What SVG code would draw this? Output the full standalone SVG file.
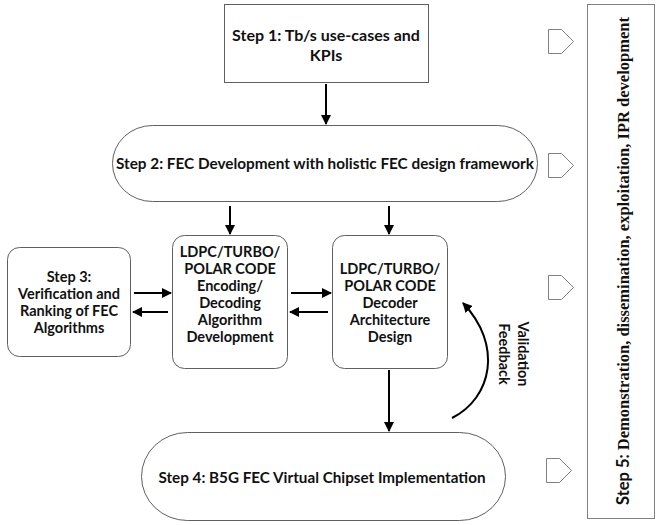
<svg xmlns="http://www.w3.org/2000/svg" width="659" height="525" viewBox="0 0 659 525">
<defs>
<style>
.box{fill:#fff;stroke:#606060;stroke-width:1}
.t{font-family:Lato,"Liberation Sans",sans-serif;font-weight:bold;font-size:14.5px;fill:#111;text-anchor:middle}
.t2{font-family:Lato,"Liberation Sans",sans-serif;font-weight:bold;font-size:16px;fill:#111;text-anchor:middle}
.c{fill:none;stroke:#000;stroke-width:2;marker-end:url(#ah)}
.pent{fill:#fff;stroke:#808080;stroke-width:1}
</style>
<marker id="ah" viewBox="0 0 10 10" refX="9" refY="5" markerWidth="5" markerHeight="5" orient="auto" markerUnits="strokeWidth">
<path d="M0,0 L10,5 L0,10 z" fill="#000"/>
</marker>
</defs>
<rect width="659" height="525" fill="#fff"/>

<g id="step1">
<rect class="box" x="224.5" y="4.5" width="204" height="78"/>
<text class="t2" x="326" y="41">Step 1: Tb/s use-cases and</text>
<text class="t2" x="326" y="61">KPIs</text>
</g>

<g id="step2">
<rect class="box" x="112.5" y="125.5" width="425" height="76" rx="40" ry="38"/>
<text class="t2" x="325" y="169" textLength="418" lengthAdjust="spacingAndGlyphs">Step 2: FEC Development with holistic FEC design framework</text>
</g>

<g id="step3">
<rect class="box" x="7.5" y="247.5" width="123" height="109" rx="12"/>
<text class="t" x="69" y="282">Step 3:</text>
<text class="t" x="69" y="299">Verification and</text>
<text class="t" x="69" y="316">Ranking of FEC</text>
<text class="t" x="69" y="333">Algorithms</text>
</g>

<g id="algo">
<rect class="box" x="172.5" y="235.5" width="115" height="133" rx="12"/>
<text class="t" x="230" y="257">LDPC/TURBO/</text>
<text class="t" x="230" y="274">POLAR CODE</text>
<text class="t" x="230" y="291">Encoding/</text>
<text class="t" x="230" y="308">Decoding</text>
<text class="t" x="230" y="325">Algorithm</text>
<text class="t" x="230" y="342">Development</text>
</g>

<g id="arch">
<rect class="box" x="332.5" y="235.5" width="115" height="133" rx="12"/>
<text class="t" x="390" y="274">LDPC/TURBO/</text>
<text class="t" x="390" y="291">POLAR CODE</text>
<text class="t" x="390" y="308">Decoder</text>
<text class="t" x="390" y="325">Architecture</text>
<text class="t" x="390" y="342">Design</text>
</g>

<g id="step4">
<rect class="box" x="141.5" y="432.5" width="364" height="88" rx="46" ry="44"/>
<text class="t2" x="322" y="483" textLength="327" lengthAdjust="spacingAndGlyphs">Step 4: B5G FEC Virtual Chipset Implementation</text>
</g>

<g id="step5">
<rect x="587.5" y="4.5" width="67" height="514" fill="#fff" stroke="#808080" stroke-width="1"/>
<text transform="translate(629,505) rotate(-90)" font-size="16.5" font-weight="bold" fill="#111"><tspan font-family="Lato,'Liberation Sans',sans-serif">Step 5: </tspan><tspan font-family="'Liberation Serif',serif">Demonstration, dissemination, exploitation, IPR development</tspan></text>
</g>

<g id="markers5">
<path class="pent" d="M548.5,29.5 H561.5 L573.5,41.5 L561.5,53.5 H548.5 Z"/>
<path class="pent" d="M548.5,153.5 H561.5 L573.5,165.5 L561.5,177.5 H548.5 Z"/>
<path class="pent" d="M548.5,275.5 H561.5 L573.5,287.5 L561.5,299.5 H548.5 Z"/>
<path class="pent" d="M546.5,458.5 H559.5 L571.5,470.5 L559.5,482.5 H546.5 Z"/>
</g>

<g id="feedback-label">
<text transform="translate(518,354) rotate(90)" class="t" text-anchor="middle">Validation</text>
<text transform="translate(499,354) rotate(90)" class="t" text-anchor="middle">Feedback</text>
</g>

<g id="connectors">
<path class="c" d="M326,84 V124"/>
<path class="c" d="M230,206 V234"/>
<path class="c" d="M389,206 V234"/>
<path class="c" d="M134,293 H171"/>
<path class="c" d="M168,312 H133"/>
<path class="c" d="M291,293 H331"/>
<path class="c" d="M328,312 H290"/>
<path class="c" d="M389,370 V431"/>
<path class="c" d="M452,418 C492,398 503,345 463,303"/>
</g>
</svg>
